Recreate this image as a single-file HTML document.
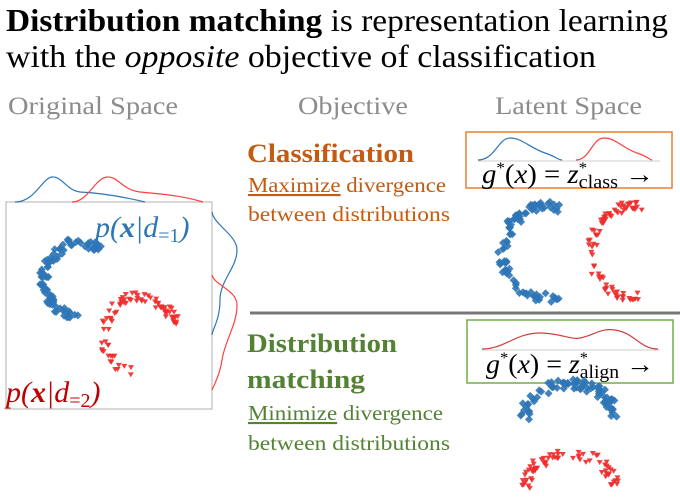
<!DOCTYPE html>
<html><head><meta charset="utf-8">
<style>
html,body{margin:0;padding:0;background:#fff;width:680px;height:500px;overflow:hidden}
svg{display:block}
text{font-family:"Liberation Serif",serif}
</style></head><body>
<svg id="s" width="680" height="500" viewBox="0 0 680 500" xmlns="http://www.w3.org/2000/svg">
<text x="6" y="31" font-size="32" fill="#000" textLength="662" lengthAdjust="spacingAndGlyphs"><tspan font-weight="bold">Distribution matching</tspan> is representation learning</text>
<text x="6" y="67" font-size="32" fill="#000" textLength="590" lengthAdjust="spacingAndGlyphs">with the <tspan font-style="italic">opposite</tspan> objective of classification</text>
<text x="8" y="114" font-size="25" fill="#8c8c8c" textLength="170" lengthAdjust="spacingAndGlyphs">Original Space</text>
<text x="298" y="114" font-size="25" fill="#8c8c8c" textLength="110" lengthAdjust="spacingAndGlyphs">Objective</text>
<text x="495" y="114" font-size="25" fill="#8c8c8c" textLength="147" lengthAdjust="spacingAndGlyphs">Latent Space</text>

<rect x="6" y="202" width="206" height="207" fill="none" stroke="#bfbfbf" stroke-width="1.2"/>
<path d="M15 202 C35 202,42 178,52 177 C62 176,66 190,80 192 C100 193,120 196,145 202" fill="none" stroke="#2e75b6" stroke-width="1.2"/>
<path d="M72 202 C88 202,95 178,107 177 C118 176,122 190,140 192 C160 194,180 195,203 202" fill="none" stroke="#ff4040" stroke-width="1.2"/>
<path d="M212 212 C214 225,237 235,237 250 C237 268,220 280,220 300 C220 320,212 330,212 335" fill="none" stroke="#2e75b6" stroke-width="1.2"/>
<path d="M212 275 C214 285,237 290,237 305 C237 325,225 340,222 360 C220 375,214 385,212 390" fill="none" stroke="#ff4040" stroke-width="1.2"/>
<text x="95" y="237" font-size="30" font-style="italic" fill="#2e75b6">p(<tspan font-weight="bold">x</tspan>|d<tspan font-size="20" font-style="normal" dy="5">=1</tspan><tspan dy="-5">)</tspan></text>
<text x="6" y="402" font-size="30" font-style="italic" fill="#c00000">p(<tspan font-weight="bold">x</tspan>|d<tspan font-size="20" font-style="normal" dy="5">=2</tspan><tspan dy="-5">)</tspan></text>

<text x="247" y="162" font-size="26" font-weight="bold" fill="#c55a11" textLength="167" lengthAdjust="spacingAndGlyphs">Classification</text>
<text x="248" y="192" font-size="21" fill="#c55a11" textLength="198" lengthAdjust="spacingAndGlyphs"><tspan text-decoration="underline">Maximize</tspan> divergence</text>
<text x="248" y="221" font-size="21" fill="#c55a11" textLength="202" lengthAdjust="spacingAndGlyphs">between distributions</text>

<rect x="466" y="132" width="206" height="56" fill="none" stroke="#ed7d31" stroke-width="1.5"/>
<line x1="478" y1="161" x2="660" y2="161" stroke="#ccc" stroke-width="1"/>
<path d="M478 160 C495 160,498 138,510 138 C522 138,530 148,545 153 C555 156,558 160,562 160" fill="none" stroke="#2e75b6" stroke-width="1.2"/>
<path d="M576 160 C590 160,592 138,604 138 C616 138,622 148,637 153 C647 156,650 160,652 160" fill="none" stroke="#ff4040" stroke-width="1.2"/>
<text x="482" y="183" font-size="27" font-style="italic" fill="#000" textLength="172" lengthAdjust="spacingAndGlyphs">g<tspan font-style="normal" font-size="16" dy="-10">*</tspan><tspan dy="10" font-style="normal">(</tspan>x<tspan font-style="normal">) = </tspan>z<tspan font-style="normal" font-size="16" dy="-10">*</tspan><tspan font-style="normal" font-size="19" dx="-8" dy="15">class</tspan><tspan font-style="normal" dy="-5"> →</tspan></text>

<line x1="250" y1="313" x2="680" y2="313" stroke="#777" stroke-width="3"/>

<text x="247" y="352" font-size="26" font-weight="bold" fill="#548235" textLength="150" lengthAdjust="spacingAndGlyphs">Distribution</text>
<text x="247" y="388" font-size="26" font-weight="bold" fill="#548235" textLength="118" lengthAdjust="spacingAndGlyphs">matching</text>
<text x="248" y="420" font-size="21" fill="#548235" textLength="195" lengthAdjust="spacingAndGlyphs"><tspan text-decoration="underline">Minimize</tspan> divergence</text>
<text x="248" y="450" font-size="21" fill="#548235" textLength="202" lengthAdjust="spacingAndGlyphs">between distributions</text>

<rect x="467" y="320" width="206" height="63" fill="none" stroke="#70ad47" stroke-width="1.5"/>
<line x1="482" y1="350" x2="660" y2="350" stroke="#ccc" stroke-width="1"/>
<path d="M482 349 C505 349,515 333,540 333 C560 333,570 340,580 338 C595 335,600 328,615 330 C635 333,640 349,658 349" fill="none" stroke="#d04040" stroke-width="1.2"/>
<text x="486" y="373" font-size="27" font-style="italic" fill="#000" textLength="168" lengthAdjust="spacingAndGlyphs">g<tspan font-style="normal" font-size="16" dy="-10">*</tspan><tspan dy="10" font-style="normal">(</tspan>x<tspan font-style="normal">) = </tspan>z<tspan font-style="normal" font-size="16" dy="-10">*</tspan><tspan font-style="normal" font-size="19" dx="-8" dy="15">align</tspan><tspan font-style="normal" dy="-5"> →</tspan></text>
<g id="pts"></g>
</svg>
<script>
var g=document.getElementById('pts');var seed=7;
function r(){seed=(seed*16807)%2147483647;return seed/2147483647;}
function arc(cx,cy,rx,ry,a0,a1,n,col,tri){
 for(var i=0;i<n;i++){var a=(a0+(a1-a0)*r())*Math.PI/180;
  var x=cx+rx*Math.cos(a)+(r()-.5)*10,y=cy+ry*Math.sin(a)+(r()-.5)*10;
  var e=document.createElementNS('http://www.w3.org/2000/svg','path');
  if(tri)e.setAttribute('d','M'+(x-3)+' '+(y-2)+'L'+(x+3)+' '+(y-2)+'L'+x+' '+(y+3)+'Z');
  else e.setAttribute('d','M'+x+' '+(y-4)+'L'+(x+4)+' '+y+'L'+x+' '+(y+4)+'L'+(x-4)+' '+y+'Z');
  e.setAttribute('fill',col);e.setAttribute('opacity','0.9');g.appendChild(e);}
}
var B='#2e75b6',R='#ee2a2a';
arc(80,280,36,38,100,310,90,B,0);
arc(140,335,36,38,110,350,80,R,1);
arc(545,252,42,46,75,290,90,B,0);
arc(632,252,40,46,80,285,80,R,1);
arc(570,420,46,36,185,355,80,B,0);
arc(570,492,46,38,190,350,70,R,1);
</script>
</body></html>
